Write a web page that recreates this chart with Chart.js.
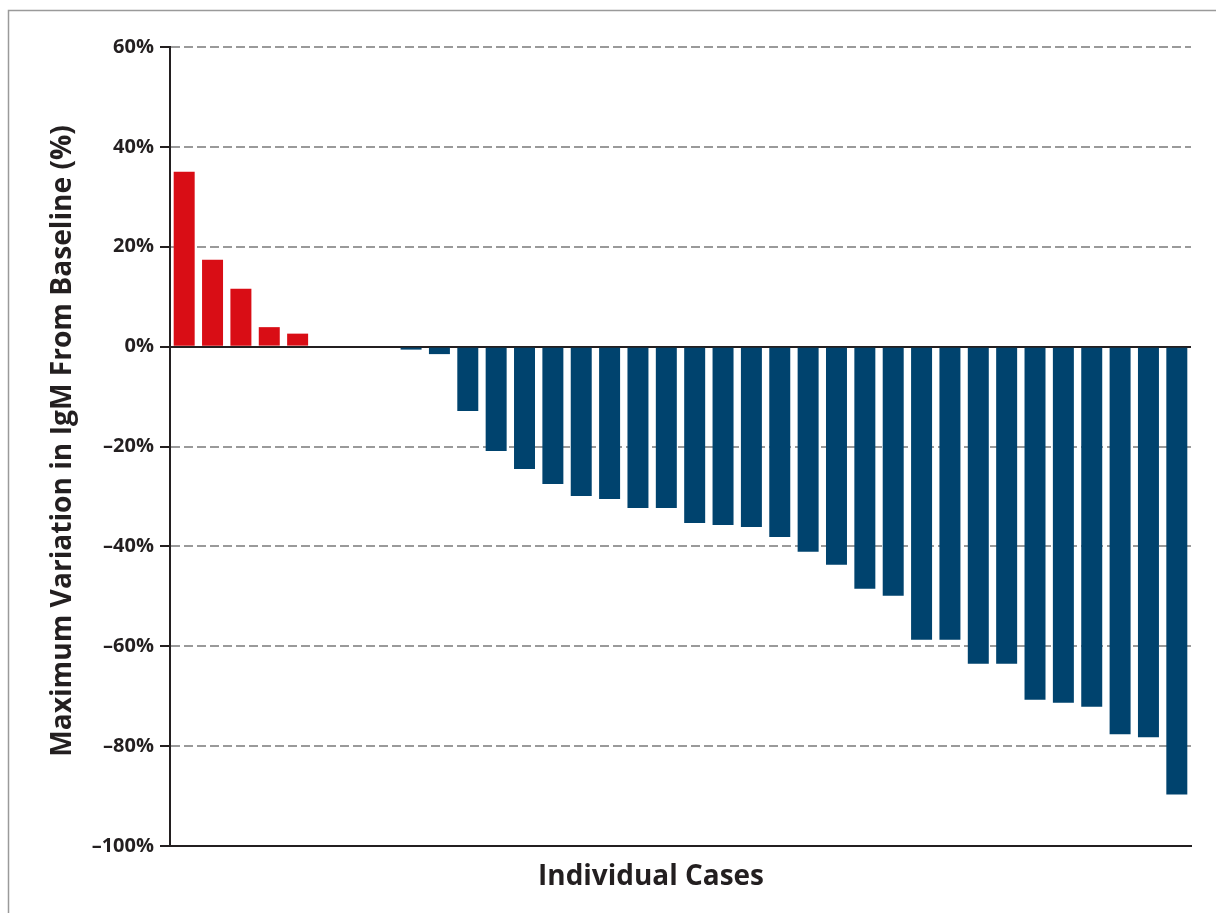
<!DOCTYPE html>
<html>
<head>
<meta charset="utf-8">
<script src="https://cdn.jsdelivr.net/npm/chart.js@4.4.0/dist/chart.umd.min.js"></script>
<style>
  html, body { margin: 0; padding: 0; background: #fff; }
  canvas { display: block; }
</style>
</head>
<body>
<canvas id="chart" width="1216" height="913"></canvas>
<script>
// dati (variazione massima IgM, %)
var casi = [];
for (var i = 1; i <= 36; i++) { casi.push('Caso ' + i); }

var variazione = [
  35, 17.4, 11.6, 3.9, 2.6, 0, 0, 0,
  -0.6, -1.5, -12.9, -20.9, -24.5, -27.5, -29.9, -30.5,
  -32.3, -32.3, -35.3, -35.7, -36.1, -38.1, -41.1, -43.7,
  -48.5, -49.9, -58.7, -58.7, -63.5, -63.5, -70.7, -71.3,
  -72.1, -77.6, -78.2, -89.7
];

var tick_asse_y = [60, 40, 20, 0, -20, -40, -60, -80, -100];

var titolo_x = 'Individual Cases';
var titolo_y = 'Maximum Variation in IgM From Baseline (%)';

var ROSSO = '#d90d15';
var BLU = '#00436e';
var NERO = '#231f20';
var GRIGIO = '#9a9a9a';
var FONT = "'Open Sans', 'Liberation Sans', sans-serif";

// colore di ogni barra: rosso se positivo, blu se negativo
var colori = variazione.map(function (v) { return v > 0 ? ROSSO : BLU; });

// disegna un testo adattando la dimensione alla larghezza voluta
function testoAdattato(ctx, testo, larghezza, x, y, ruota) {
  ctx.save();
  ctx.font = 'bold 27px ' + FONT;
  var w = ctx.measureText(testo).width;
  var size = 27 * larghezza / w;
  ctx.font = 'bold ' + size.toFixed(2) + 'px ' + FONT;
  ctx.fillStyle = NERO;
  ctx.textAlign = 'center';
  ctx.textBaseline = 'middle';
  ctx.translate(x, y);
  if (ruota) ctx.rotate(-Math.PI / 2);
  ctx.fillText(testo, 0, 0);
  ctx.restore();
}

var cornice = {
  id: 'cornice',
  beforeDraw: function (chart) {
    var ctx = chart.ctx;
    ctx.save();
    ctx.fillStyle = '#fff';
    ctx.fillRect(0, 0, chart.width, chart.height);
    ctx.strokeStyle = '#9a9a9a';
    ctx.lineWidth = 1.5;
    ctx.beginPath();
    ctx.moveTo(8.5, chart.height);
    ctx.lineTo(8.5, 10.5);
    ctx.lineTo(chart.width, 10.5);
    ctx.stroke();
    ctx.restore();
  },
  afterDraw: function (chart) {
    var ctx = chart.ctx;
    testoAdattato(ctx, titolo_x, 226, 651, 877, false);
    testoAdattato(ctx, titolo_y, 632, 63, 441, true);
  }
};

var ctx = document.getElementById('chart').getContext('2d');

var myChart = new Chart(ctx, {
  type: 'bar',
  data: {
    labels: casi,
    datasets: [{
      label: 'Variazione IgM',
      data: variazione,
      backgroundColor: colori,
      borderWidth: 0,
      barPercentage: 0.74,
      categoryPercentage: 1
    }]
  },
  plugins: [cornice],
  options: {
    responsive: false,
    animation: false,
    layout: {
      padding: { top: 47, right: 25, bottom: 67, left: 0 }
    },
    plugins: {
      legend: { display: false },
      tooltip: { enabled: false }
    },
    scales: {
      x: {
        grid: { display: false },
        ticks: { display: false },
        border: { display: true, color: NERO, width: 2 },
        afterFit: function (scale) { scale.height = 0; }
      },
      y: {
        min: -100,
        max: 60,
        afterFit: function (scale) { scale.width = 170; },
        afterBuildTicks: function (scale) {
          scale.ticks = tick_asse_y.map(function (v) { return { value: v }; });
        },
        ticks: {
          padding: 6,
          color: NERO,
          font: { family: FONT, size: 20, weight: 'bold' },
          callback: function (value) {
            return (value < 0 ? '\u2013' : '') + Math.abs(value) + '%';
          }
        },
        grid: {
          color: function (c) {
            return (c.tick && (c.tick.value === 0 || c.tick.value === -100)) ? NERO : GRIGIO;
          },
          lineWidth: 2,
          tickColor: NERO,
          tickLength: 10,
          tickWidth: 2
        },
        border: {
          color: NERO,
          width: 2,
          dash: function (c) {
            return (c.tick && (c.tick.value === 0 || c.tick.value === -100)) ? [] : [9, 4];
          }
        }
      }
    }
  }
});
</script>
</body>
</html>
